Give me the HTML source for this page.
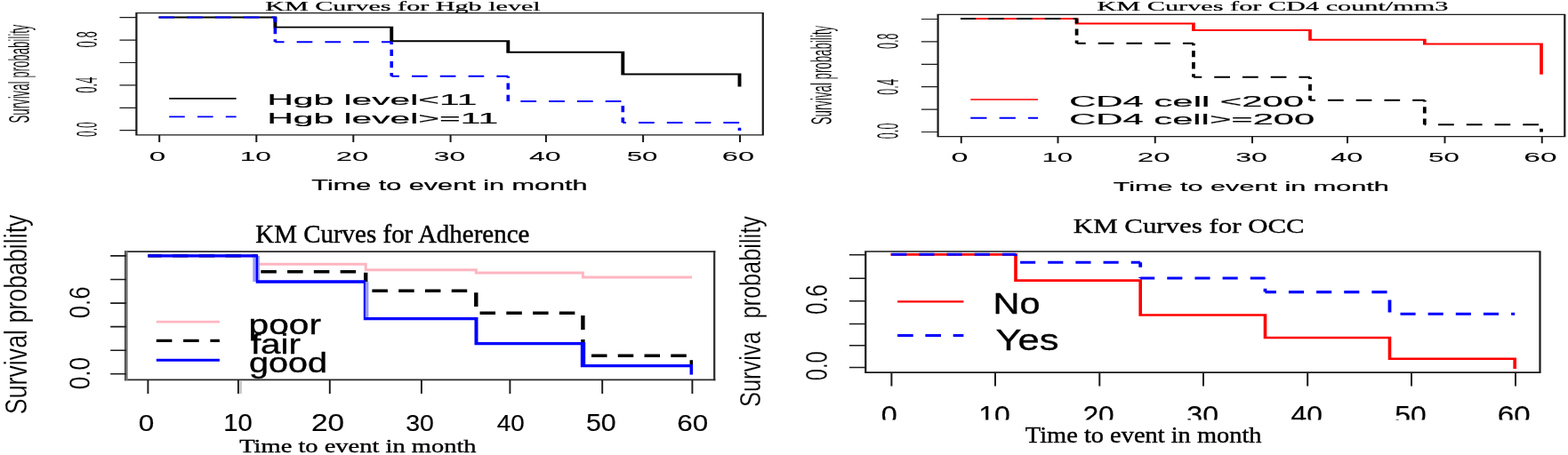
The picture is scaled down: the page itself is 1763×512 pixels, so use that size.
<!DOCTYPE html>
<html><head><meta charset="utf-8"><title>KM Curves</title>
<style>
html,body{margin:0;padding:0;background:#fff;width:1763px;height:512px;overflow:hidden}
svg{display:block}
.f1{font-family:"Liberation Sans",Arial,sans-serif;font-size:100px;fill:#000}
.f2{font-family:"Liberation Serif","Times New Roman",serif;font-size:100px;fill:#000}
</style></head><body>
<svg width="1763" height="512" viewBox="0 0 1763 512">
<defs><clipPath id="clipBR"><rect x="940" y="440" width="823" height="32.6"/></clipPath></defs>
<rect width="1763" height="512" fill="#fff"/>
<path fill="#1a1a1a" d="M152.3 14.05h706.6v1.3h-706.6zM152.3 151.25h706.6v1.3h-706.6zM152.3 14.7h2.2v137.2h-2.2zM856.7 14.7h2.2v137.2h-2.2zM134.5 19.1h18.9v1.2h-18.9zM134.5 44.5h18.9v1.2h-18.9zM134.5 69.9h18.9v1.2h-18.9zM134.5 95.3h18.9v1.2h-18.9zM134.5 120.7h18.9v1.2h-18.9zM134.5 146.1h18.9v1.2h-18.9zM178.2 151.9h2v8.1h-2zM287.3 151.9h2v8.1h-2zM396.3 151.9h2v8.1h-2zM505.6 151.9h2v8.1h-2zM612.9 151.9h2v8.1h-2zM722.1 151.9h2v8.1h-2zM831 151.9h2v8.1h-2z"/>
<path fill="#000" d="M178.5 18.55h132.85v1.9h-132.85zM307.45 18.55h3.9v13h-3.9zM307.45 29.65h134.75v1.9h-134.75zM438.3 29.65h3.9v17.6h-3.9zM438.3 45.35h134.95v1.9h-134.95zM569.35 45.35h3.9v14.3h-3.9zM569.35 57.75h132.9v1.9h-132.9zM698.35 57.75h3.9v26.7h-3.9zM698.35 82.55h135.1v1.9h-135.1zM829.55 82.55h3.9v15h-3.9z"/>
<path fill="#0000ff" d="M178.5 18.55h17.46v1.9h-17.46zM210.05 18.55h17.7v1.9h-17.7zM241.84 18.55h17.7v1.9h-17.7zM273.63 18.55h17.7v1.9h-17.7zM305.42 18.55h3.98v1.9h-3.98zM307.6 19.5h3.6v5.67h-3.6zM307.6 30.99h3.6v7.31h-3.6zM307.6 44.13h3.6v3.12h-3.6zM309.4 46.3h10.14v1.9h-10.14zM333.63 46.3h17.7v1.9h-17.7zM365.42 46.3h17.7v1.9h-17.7zM397.21 46.3h17.7v1.9h-17.7zM429 46.3h11.25v1.9h-11.25zM438.45 47.25h3.6v2.67h-3.6zM438.45 55.74h3.6v7.31h-3.6zM438.45 68.88h3.6v7.31h-3.6zM438.45 82.01h3.6v3.74h-3.6zM440.25 84.8h8.65v1.9h-8.65zM462.99 84.8h17.7v1.9h-17.7zM494.78 84.8h17.7v1.9h-17.7zM526.57 84.8h17.7v1.9h-17.7zM558.36 84.8h12.94v1.9h-12.94zM569.5 85.75h3.6v1.97h-3.6zM569.5 93.54h3.6v7.31h-3.6zM569.5 106.68h3.6v7.31h-3.6zM585.37 113.05h17.7v1.9h-17.7zM617.16 113.05h17.7v1.9h-17.7zM648.95 113.05h17.7v1.9h-17.7zM680.74 113.05h17.7v1.9h-17.7zM698.5 119.05h3.6v7.31h-3.6zM698.5 132.19h3.6v5.81h-3.6zM700.3 137.05h3.64v1.9h-3.64zM718.03 137.05h17.7v1.9h-17.7zM749.82 137.05h17.7v1.9h-17.7zM781.61 137.05h17.7v1.9h-17.7zM813.4 137.05h17.7v1.9h-17.7zM829.7 143.66h3.6v3.44h-3.6z"/>
<path fill="#000" d="M190.2 110.05h75.4v1.7h-75.4z"/>
<path fill="#0000ff" d="M190.2 130.4h17.6v1.8h-17.6zM222 130.4h17.6v1.8h-17.6zM253.8 130.4h11.8v1.8h-11.8z"/>
<path fill="#1a1a1a" d="M1053.5 15.65h706.9v1.3h-706.9zM1053.5 153.05h706.9v1.3h-706.9zM1053.5 16.3h2.2v137.4h-2.2zM1758.2 16.3h2.2v137.4h-2.2zM1036 20.9h18.6v1.2h-18.6zM1036 46.3h18.6v1.2h-18.6zM1036 71.7h18.6v1.2h-18.6zM1036 97.1h18.6v1.2h-18.6zM1036 122.5h18.6v1.2h-18.6zM1036 147.9h18.6v1.2h-18.6zM1079.75 153.7h2v7.5h-2zM1188.5 153.7h2v7.5h-2zM1297.75 153.7h2v7.5h-2zM1407 153.7h2v7.5h-2zM1514 153.7h2v7.5h-2zM1623.5 153.7h2v7.5h-2zM1732.75 153.7h2v7.5h-2z"/>
<path fill="#ff0000" d="M1080 20h132.45v2h-132.45zM1208.75 20h3.7v7.5h-3.7zM1208.75 25.5h135v2h-135zM1340.05 25.5h3.7v9.4h-3.7zM1340.05 32.9h134.8v2h-134.8zM1471.15 32.9h3.7v12.85h-3.7zM1471.15 43.75h132.5v2h-132.5zM1599.95 43.75h3.7v6.85h-3.7zM1599.95 48.6h134.9v2h-134.9zM1731.15 48.6h3.7v35.15h-3.7z"/>
<path fill="#000" d="M1080 20.05h17.22v1.9h-17.22zM1111.2 20.05h17.75v1.9h-17.75zM1142.93 20.05h17.75v1.9h-17.75zM1174.66 20.05h17.75v1.9h-17.75zM1206.39 20.05h4.21v1.9h-4.21zM1208.72 21h3.75v5.62h-3.75zM1208.72 32.42h3.75v7.37h-3.75zM1208.72 45.59h3.75v3.16h-3.75zM1210.6 47.8h10.12v1.9h-10.12zM1234.7 47.8h17.75v1.9h-17.75zM1266.43 47.8h17.75v1.9h-17.75zM1298.16 47.8h17.75v1.9h-17.75zM1329.89 47.8h12.01v1.9h-12.01zM1340.03 48.75h3.75v2.38h-3.75zM1340.03 56.93h3.75v7.37h-3.75zM1340.03 70.1h3.75v7.37h-3.75zM1340.03 83.27h3.75v3.48h-3.75zM1341.9 85.8h9.35v1.9h-9.35zM1365.23 85.8h17.75v1.9h-17.75zM1396.96 85.8h17.75v1.9h-17.75zM1428.69 85.8h17.75v1.9h-17.75zM1460.42 85.8h12.58v1.9h-12.58zM1471.12 86.75h3.75v2.15h-3.75zM1471.12 94.7h3.75v7.37h-3.75zM1471.12 107.86h3.75v4.89h-3.75zM1473 111.8h5.97v1.9h-5.97zM1492.95 111.8h17.75v1.9h-17.75zM1524.68 111.8h17.75v1.9h-17.75zM1556.41 111.8h17.75v1.9h-17.75zM1588.14 111.8h13.66v1.9h-13.66zM1599.92 112.75h3.75v1.7h-3.75zM1599.92 120.25h3.75v7.37h-3.75zM1599.92 133.41h3.75v6.84h-3.75zM1601.8 139.3h1.28v1.9h-1.28zM1617.06 139.3h17.75v1.9h-17.75zM1648.79 139.3h17.75v1.9h-17.75zM1680.52 139.3h17.75v1.9h-17.75zM1712.25 139.3h17.75v1.9h-17.75zM1731.12 144.8h3.75v3.6h-3.75z"/>
<path fill="#ff0000" d="M1091.25 111.15h75.75v1.7h-75.75z"/>
<path fill="#0000ff" d="M1091.25 131.85h18.2v1.8h-18.2zM1123.65 131.85h18.2v1.8h-18.2zM1156.05 131.85h10.95v1.8h-10.95z"/>
<path fill="#2a2a2a" d="M140 282.35h664.4v1.7h-664.4zM140 426.55h664.4v1.7h-664.4z"/>
<path fill="#707070" d="M140 282.4h3.6v145.8h-3.6z"/>
<path fill="#3a3a3a" d="M140.1 282.4h1v145.8h-1z"/>
<path fill="#2a2a2a" d="M802.1 282.4h2.2v145.8h-2.2z"/>
<path fill="#bdbdbd" d="M269.5 428.2h2.2v14.8h-2.2z"/>
<path fill="#1a1a1a" d="M124.2 287.1h17.6v1.6h-17.6zM124.2 313.7h17.6v1.6h-17.6zM124.2 340.3h17.6v1.6h-17.6zM124.2 366.8h17.6v1.6h-17.6zM124.2 393.4h17.6v1.6h-17.6zM124.2 419.9h17.6v1.6h-17.6zM165.45 427.4h1.9v15.6h-1.9zM266.95 427.4h1.9v15.6h-1.9zM369.85 427.4h1.9v15.6h-1.9zM472.95 427.4h1.9v15.6h-1.9zM572.45 427.4h1.9v15.6h-1.9zM676.25 427.4h1.9v15.6h-1.9zM777.45 427.4h1.9v15.6h-1.9z"/>
<path fill="#ffb6c1" d="M166.4 286.4h123.9v3h-123.9zM287.3 286.4h3v12.3h-3zM287.3 295.7h125.4v3h-125.4zM409.7 295.7h3v9.55h-3zM409.7 302.25h127.1v3h-127.1zM533.8 302.25h3v6.25h-3zM533.8 305.5h123.1v3h-123.1zM653.9 305.5h3v8h-3zM653.9 310.5h124.1v3h-124.1z"/>
<path fill="#000" d="M166.4 286.2h15.35v3.4h-15.35zM194.02 286.2h17.5v3.4h-17.5zM223.79 286.2h17.5v3.4h-17.5zM253.56 286.2h17.5v3.4h-17.5zM283.33 286.2h5.47v3.4h-5.47zM286.6 287.9h4.4v10.86h-4.4zM293.32 304.05h17.5v3.4h-17.5zM323.09 304.05h17.5v3.4h-17.5zM352.86 304.05h17.5v3.4h-17.5zM382.63 304.05h17.5v3.4h-17.5zM409 306.84h4.4v15.79h-4.4zM418.41 325.5h17.5v3.4h-17.5zM448.18 325.5h17.5v3.4h-17.5zM477.95 325.5h17.5v3.4h-17.5zM507.72 325.5h17.5v3.4h-17.5zM533.1 329.17h4.4v15.79h-4.4zM539.56 350.5h17.5v3.4h-17.5zM569.33 350.5h17.5v3.4h-17.5zM599.1 350.5h17.5v3.4h-17.5zM628.87 350.5h17.5v3.4h-17.5zM653.2 355.12h4.4v15.79h-4.4zM653.2 381.99h4.4v15.79h-4.4zM664.99 398.5h17.5v3.4h-17.5zM694.76 398.5h17.5v3.4h-17.5zM724.53 398.5h17.5v3.4h-17.5zM754.3 398.5h17.5v3.4h-17.5z"/>
<path fill="#9a9aff" d="M284.3 287.9h7.6v29.1h-7.6zM409 317h5.4v41.7h-5.4z"/>
<path fill="#0000ff" d="M166.4 286.25h123.7v3.3h-123.7zM287.7 286.25h2.4v32.4h-2.4zM287.7 315.35h123.1v3.3h-123.1zM408.8 315.35h2v45h-2zM408.8 357.05h128.7v3.3h-128.7zM533.5 357.05h4v31.2h-4zM533.5 384.95h124.7v3.3h-124.7zM652.8 384.95h5.4v28.3h-5.4zM652.8 409.95h125.2v3.3h-125.2z"/>
<path fill="#000" d="M775.55 405.2h3.5v4.8h-3.5z"/>
<path fill="#0000ff" d="M775.55 410h3.5v11.6h-3.5z"/>
<path fill="#ffb6c1" d="M175.8 360.8h71.1v2.6h-71.1z"/>
<path fill="#000" d="M175.8 381.8h17.6v3.2h-17.6zM206.1 381.8h17.6v3.2h-17.6zM236.4 381.8h10.5v3.2h-10.5z"/>
<path fill="#0000ff" d="M175.8 403.7h71.1v3h-71.1z"/>
<path fill="#1a1a1a" d="M972.15 282.15h760.45v1.7h-760.45zM972.15 418.25h760.45v1.7h-760.45zM972.15 283h2.2v136.1h-2.2zM1730.4 283h2.2v136.1h-2.2zM955 285.95h18.25v1.6h-18.25zM955 312.45h18.25v1.6h-18.25zM955 337.95h18.25v1.6h-18.25zM955 363.7h18.25v1.6h-18.25zM955 387.95h18.25v1.6h-18.25zM955 412.7h18.25v1.6h-18.25zM1001.4 419.1h2v15.3h-2zM1118 419.1h2v15.3h-2zM1235.3 419.1h2v15.3h-2zM1352 419.1h2v15.3h-2zM1469.2 419.1h2v15.3h-2zM1586 419.1h2v15.3h-2zM1703 419.1h2v15.3h-2z"/>
<path fill="#ff0000" d="M1001.4 284.95h142.4v2.7h-142.4zM1140.2 284.95h3.6v32h-3.6zM1140.2 314.25h143.8v2.7h-143.8zM1280.4 314.25h3.6v41.6h-3.6zM1280.4 353.15h143.9v2.7h-143.9zM1420.7 353.15h3.6v28.2h-3.6zM1420.7 378.65h143.6v2.7h-143.6zM1560.7 378.65h3.6v26.45h-3.6zM1560.7 402.4h144.3v2.7h-144.3zM1701.4 402.4h3.6v12.7h-3.6z"/>
<path fill="#0000ff" d="M1002.27 284.75h17.1v3.1h-17.1zM1033.43 284.75h17.1v3.1h-17.1zM1064.59 284.75h17.1v3.1h-17.1zM1095.75 284.75h17.1v3.1h-17.1zM1126.91 284.75h15.09v3.1h-15.09zM1140.1 286.3h3.8v1.64h-3.8zM1147.09 293.7h17.1v3.1h-17.1zM1178.25 293.7h17.1v3.1h-17.1zM1209.41 293.7h17.1v3.1h-17.1zM1240.57 293.7h17.1v3.1h-17.1zM1271.73 293.7h10.47v3.1h-10.47zM1280.3 295.25h3.8v5.4h-3.8zM1280.3 312.11h3.8v0.89h-3.8zM1282.2 311.45h16.01v3.1h-16.01zM1312.27 311.45h17.1v3.1h-17.1zM1343.43 311.45h17.1v3.1h-17.1zM1374.59 311.45h17.1v3.1h-17.1zM1405.75 311.45h16.75v3.1h-16.75zM1420.6 313h3.8v0.28h-3.8zM1420.6 324.74h3.8v3.86h-3.8zM1422.5 327.05h12.37v3.1h-12.37zM1448.93 327.05h17.1v3.1h-17.1zM1480.09 327.05h17.1v3.1h-17.1zM1511.25 327.05h17.1v3.1h-17.1zM1542.41 327.05h17.1v3.1h-17.1zM1560.6 337.62h3.8v13.94h-3.8zM1574.48 351.7h17.1v3.1h-17.1zM1605.64 351.7h17.1v3.1h-17.1zM1636.8 351.7h17.1v3.1h-17.1zM1667.96 351.7h17.1v3.1h-17.1zM1699.12 351.7h4.08v3.1h-4.08z"/>
<path fill="#ff0000" d="M1009.1 338.2h74.3v2.2h-74.3z"/>
<path fill="#0000ff" d="M1009.1 375.9h17.6v3h-17.6zM1040.4 375.9h17.6v3h-17.6zM1071.7 375.9h11.7v3h-11.7z"/>
<text class="f2" transform="translate(298.20,11.80) scale(0.3013,0.1431)" stroke="#000" stroke-width="1.49">KM Curves for Hgb level</text>
<text class="f1" transform="translate(33.00,138.49) rotate(-90) scale(1.6620,0.3324)" textLength="66.746" lengthAdjust="spacingAndGlyphs" stroke="#fff" stroke-width="0.722">Survival probability</text>
<text class="f1" transform="translate(108.90,53.52) rotate(-90) scale(1.7000,0.3400)" textLength="10.715" lengthAdjust="spacingAndGlyphs" stroke="#fff" stroke-width="0.706">0.8</text>
<text class="f1" transform="translate(108.90,104.72) rotate(-90) scale(1.7143,0.3429)" textLength="10.567" lengthAdjust="spacingAndGlyphs" stroke="#fff" stroke-width="0.700">0.4</text>
<text class="f1" transform="translate(108.90,153.88) rotate(-90) scale(1.7000,0.3400)" textLength="9.738" lengthAdjust="spacingAndGlyphs" stroke="#fff" stroke-width="0.706">0.0</text>
<text class="f1" transform="translate(167.67,181.00) scale(0.3326,0.1400)" stroke="#000" stroke-width="0.45">0</text>
<text class="f1" transform="translate(269.72,181.00) scale(0.3170,0.1400)" stroke="#000" stroke-width="0.47">10</text>
<text class="f1" transform="translate(377.66,181.00) scale(0.3288,0.1400)" stroke="#000" stroke-width="0.46">20</text>
<text class="f1" transform="translate(487.82,181.00) scale(0.3188,0.1400)" stroke="#000" stroke-width="0.47">30</text>
<text class="f1" transform="translate(594.90,181.00) scale(0.3210,0.1400)" stroke="#000" stroke-width="0.47">40</text>
<text class="f1" transform="translate(704.75,181.00) scale(0.3121,0.1400)" stroke="#000" stroke-width="0.48">50</text>
<text class="f1" transform="translate(811.87,181.00) scale(0.3259,0.1400)" stroke="#000" stroke-width="0.46">60</text>
<text class="f1" transform="translate(350.33,213.60) scale(0.3063,0.1623)" stroke="#000" stroke-width="1.47">Time to event in month</text>
<text class="f1" transform="translate(300.44,117.70) scale(0.4074,0.1652)" stroke="#000" stroke-width="1.10">Hgb level&lt;11</text>
<text class="f1" transform="translate(300.44,138.70) scale(0.4074,0.1652)" stroke="#000" stroke-width="1.10">Hgb level&gt;=11</text>
<text class="f2" transform="translate(1233.49,11.90) scale(0.3026,0.1354)" stroke="#000" stroke-width="1.49">KM Curves for CD4 count/mm3</text>
<text class="f1" transform="translate(934.90,140.35) rotate(-90) scale(1.6831,0.3366)" textLength="66.177" lengthAdjust="spacingAndGlyphs" stroke="#fff" stroke-width="0.713">Survival probability</text>
<text class="f1" transform="translate(1010.25,54.90) rotate(-90) scale(1.7143,0.3429)" textLength="10.129" lengthAdjust="spacingAndGlyphs" stroke="#fff" stroke-width="0.700">0.8</text>
<text class="f1" transform="translate(1010.10,106.76) rotate(-90) scale(1.7286,0.3457)" textLength="10.266" lengthAdjust="spacingAndGlyphs" stroke="#fff" stroke-width="0.694">0.4</text>
<text class="f1" transform="translate(1010.25,156.31) rotate(-90) scale(1.7143,0.3429)" textLength="10.400" lengthAdjust="spacingAndGlyphs" stroke="#fff" stroke-width="0.700">0.0</text>
<text class="f1" transform="translate(1069.38,182.10) scale(0.3421,0.1443)" stroke="#000" stroke-width="0.44">0</text>
<text class="f1" transform="translate(1171.41,182.10) scale(0.3125,0.1443)" stroke="#000" stroke-width="0.48">10</text>
<text class="f1" transform="translate(1278.84,182.10) scale(0.3317,0.1443)" stroke="#000" stroke-width="0.45">20</text>
<text class="f1" transform="translate(1389.21,182.10) scale(0.3213,0.1443)" stroke="#000" stroke-width="0.47">30</text>
<text class="f1" transform="translate(1496.18,182.10) scale(0.3262,0.1443)" stroke="#000" stroke-width="0.46">40</text>
<text class="f1" transform="translate(1606.05,182.10) scale(0.3121,0.1443)" stroke="#000" stroke-width="0.48">50</text>
<text class="f1" transform="translate(1713.33,182.10) scale(0.3341,0.1443)" stroke="#000" stroke-width="0.45">60</text>
<text class="f1" transform="translate(1251.73,214.90) scale(0.3060,0.1551)" stroke="#000" stroke-width="1.47">Time to event in month</text>
<text class="f1" transform="translate(1202.16,119.50) scale(0.4184,0.1571)" stroke="#000" stroke-width="1.08">CD4 cell &lt;200</text>
<text class="f1" transform="translate(1202.16,139.75) scale(0.4176,0.1607)" stroke="#000" stroke-width="1.08">CD4 cell&gt;=200</text>
<text class="f2" transform="translate(287.23,272.70) scale(0.2899,0.2892)" stroke="#000" stroke-width="1.55">KM Curves for Adherence</text>
<text class="f1" transform="translate(30.40,466.20) rotate(-90) scale(1.7676,0.3535)" textLength="127.107" lengthAdjust="spacingAndGlyphs" stroke="#fff" stroke-width="0.679">Survival probability</text>
<text class="f1" transform="translate(101.25,358.28) rotate(-90) scale(1.6964,0.3393)" textLength="21.036" lengthAdjust="spacingAndGlyphs" stroke="#fff" stroke-width="0.707">0.6</text>
<text class="f1" transform="translate(101.25,438.29) rotate(-90) scale(1.6964,0.3393)" textLength="21.362" lengthAdjust="spacingAndGlyphs" stroke="#fff" stroke-width="0.707">0.0</text>
<text class="f1" transform="translate(155.74,484.90) scale(0.3158,0.2671)" stroke="#000" stroke-width="0.63">0</text>
<text class="f1" transform="translate(251.31,484.90) scale(0.2925,0.2671)" stroke="#000" stroke-width="0.68">10</text>
<text class="f1" transform="translate(349.93,484.90) scale(0.3337,0.2671)" stroke="#000" stroke-width="0.60">20</text>
<text class="f1" transform="translate(456.26,484.90) scale(0.2850,0.2671)" stroke="#000" stroke-width="0.70">30</text>
<text class="f1" transform="translate(558.70,484.90) scale(0.2781,0.2671)" stroke="#000" stroke-width="0.72">40</text>
<text class="f1" transform="translate(658.99,484.90) scale(0.3034,0.2671)" stroke="#000" stroke-width="0.66">50</text>
<text class="f1" transform="translate(761.23,484.90) scale(0.3141,0.2671)" stroke="#000" stroke-width="0.64">60</text>
<text class="f2" transform="translate(269.23,508.60) scale(0.2850,0.2108)" stroke="#000" stroke-width="1.58">Time to event in month</text>
<text class="f1" transform="translate(279.56,375.80) scale(0.4068,0.3185)" stroke="#000" stroke-width="1.11">poor</text>
<text class="f1" transform="translate(281.89,397.70) scale(0.4044,0.3200)" stroke="#000" stroke-width="1.11">fair</text>
<text class="f1" transform="translate(280.12,418.75) scale(0.3958,0.3193)" stroke="#000" stroke-width="1.14">good</text>
<text class="f2" transform="translate(1206.87,261.75) scale(0.3088,0.2238)" stroke="#000" stroke-width="1.46">KM Curves for OCC</text>
<text class="f1" transform="translate(855.00,358.55) rotate(-90) scale(1.6268,0.3254)" textLength="70.923" lengthAdjust="spacingAndGlyphs" stroke="#fff" stroke-width="0.738">probability</text>
<text class="f1" transform="translate(854.90,458.05) rotate(-90) scale(1.6197,0.3239)" textLength="52.438" lengthAdjust="spacingAndGlyphs" stroke="#fff" stroke-width="0.741">Surviva</text>
<text class="f1" transform="translate(929.75,354.08) rotate(-90) scale(1.7250,0.3450)" textLength="19.669" lengthAdjust="spacingAndGlyphs" stroke="#fff" stroke-width="0.696">0.6</text>
<text class="f1" transform="translate(929.75,428.20) rotate(-90) scale(1.7250,0.3450)" textLength="19.071" lengthAdjust="spacingAndGlyphs" stroke="#fff" stroke-width="0.696">0.0</text>
<g clip-path="url(#clipBR)"><text class="f1" transform="translate(990.70,476.50) scale(0.3242,0.2971)" stroke="#000" stroke-width="0.62">0</text></g>
<g clip-path="url(#clipBR)"><text class="f1" transform="translate(1100.35,476.50) scale(0.3195,0.2971)" stroke="#000" stroke-width="0.63">10</text></g>
<g clip-path="url(#clipBR)"><text class="f1" transform="translate(1217.41,476.50) scale(0.3171,0.2971)" stroke="#000" stroke-width="0.63">20</text></g>
<g clip-path="url(#clipBR)"><text class="f1" transform="translate(1334.32,476.50) scale(0.3208,0.2971)" stroke="#000" stroke-width="0.62">30</text></g>
<g clip-path="url(#clipBR)"><text class="f1" transform="translate(1451.50,476.50) scale(0.3181,0.2971)" stroke="#000" stroke-width="0.63">40</text></g>
<g clip-path="url(#clipBR)"><text class="f1" transform="translate(1568.33,476.50) scale(0.3179,0.2971)" stroke="#000" stroke-width="0.63">50</text></g>
<g clip-path="url(#clipBR)"><text class="f1" transform="translate(1683.75,476.50) scale(0.3307,0.2971)" stroke="#000" stroke-width="0.60">60</text></g>
<text class="f2" transform="translate(1152.83,498.10) scale(0.2842,0.2615)" stroke="#000" stroke-width="1.58">Time to event in month</text>
<text class="f1" transform="translate(1116.58,353.00) scale(0.4147,0.3406)" stroke="#000" stroke-width="1.09">No</text>
<text class="f1" transform="translate(1119.41,393.60) scale(0.4357,0.3333)" stroke="#000" stroke-width="1.03">Yes</text>
</svg>
</body></html>
